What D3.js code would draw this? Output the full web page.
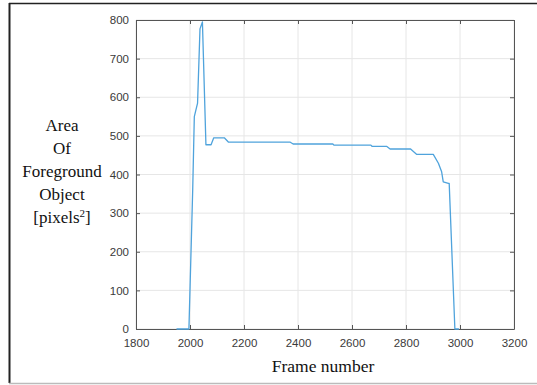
<!DOCTYPE html>
<html><head><meta charset="utf-8">
<script src="https://cdn.jsdelivr.net/npm/d3@7"></script>
<style>body{margin:0;background:#fff}svg{display:block}</style>
</head><body>
<script>
const frames = [1950,1996,2010,2016,2028,2037,2046,2059,2078,2088,2127,2142,2370,2382,2529,2533,2670,2674,2728,2741,2817,2840,2901,2920,2932,2938,2957,2960,2981,2996];
const areas  = [0,   0,   360, 550, 585, 777, 795, 477, 477, 495, 495, 484, 484, 479, 479, 476, 476, 473, 473, 466, 466, 452, 452, 429, 407, 381, 377, 377, 0,   0];
const xTicks = [1800,2000,2200,2400,2600,2800,3000,3200];
const yTicks = [0,100,200,300,400,500,600,700,800];
const yLabelLines = ["Area","Of","Foreground","Object"];

const W=537,H=385;
const m={l:136,t:20,r:514,b:329};
const svg=d3.select("body").append("svg").attr("width",W).attr("height",H);

// outer frame
svg.append("line").attr("x1",9).attr("x2",537).attr("y1",3.5).attr("y2",3.5).attr("stroke","#222").attr("stroke-width",1.5);
svg.append("line").attr("x1",9.5).attr("x2",9.5).attr("y1",3).attr("y2",383).attr("stroke","#222").attr("stroke-width",2);
svg.append("line").attr("x1",9).attr("x2",537).attr("y1",383.5).attr("y2",383.5).attr("stroke","#bbb").attr("stroke-width",1.5);

const x=d3.scaleLinear().domain([1800,3200]).range([m.l,m.r]);
const y=d3.scaleLinear().domain([0,800]).range([m.b,m.t]);

// grid
const g=svg.append("g");
g.selectAll(".gx").data(xTicks).join("line").attr("x1",d=>x(d)).attr("x2",d=>x(d)).attr("y1",m.t).attr("y2",m.b).attr("stroke","#e6e6e6");
g.selectAll(".gy").data(yTicks).join("line").attr("y1",d=>y(d)).attr("y2",d=>y(d)).attr("x1",m.l).attr("x2",m.r).attr("stroke","#e6e6e6");

// axes
const tickCol="#3a3a3a";
const ax=svg.append("g").attr("transform",`translate(0,${m.b})`).call(d3.axisBottom(x).tickValues(xTicks).tickSizeInner(-4).tickSizeOuter(0).tickPadding(10).tickFormat(d3.format("d")));
const ay=svg.append("g").attr("transform",`translate(${m.l},0)`).call(d3.axisLeft(y).tickValues(yTicks).tickSizeInner(-4).tickSizeOuter(0).tickPadding(7).tickFormat(d3.format("d")));
const axT=svg.append("g").attr("transform",`translate(0,${m.t})`).call(d3.axisTop(x).tickValues(xTicks).tickSizeInner(-4).tickSizeOuter(0).tickFormat(""));
const ayR=svg.append("g").attr("transform",`translate(${m.r},0)`).call(d3.axisRight(y).tickValues(yTicks).tickSizeInner(-4).tickSizeOuter(0).tickFormat(""));
[ax,ay,axT,ayR].forEach(a=>{
  a.select(".domain").attr("stroke","#555");
  a.selectAll(".tick line").attr("stroke","#555");
  a.selectAll("text").attr("fill",tickCol).style("font-family","'Liberation Sans',Arial,sans-serif").style("font-size","11.5px");
});

// data line
svg.append("path").datum(frames.map((f,i)=>[f,areas[i]]))
  .attr("fill","none").attr("stroke","#4fa3dc").attr("stroke-width",1.3).attr("stroke-linejoin","round")
  .attr("d",d3.line().x(d=>x(d[0])).y(d=>y(d[1])));

// labels
const serif="'Liberation Serif','Times New Roman',serif";
const yl=svg.append("text").attr("text-anchor","middle").style("font-family",serif).style("font-size","17px").attr("fill","#111");
yLabelLines.forEach((t,i)=>yl.append("tspan").attr("x",62).attr("y",131+i*23).text(t));
const last=yl.append("tspan").attr("x",62).attr("y",131+4*23);
last.text("[pixels");
yl.append("tspan").attr("dy",-6).style("font-size","11px").text("2");
yl.append("tspan").attr("dy",6).text("]");

svg.append("text").attr("x",(m.l+m.r)/2-2).attr("y",372).attr("text-anchor","middle")
  .style("font-family",serif).style("font-size","17.5px").attr("fill","#111").text("Frame number");
</script>
</body></html>
